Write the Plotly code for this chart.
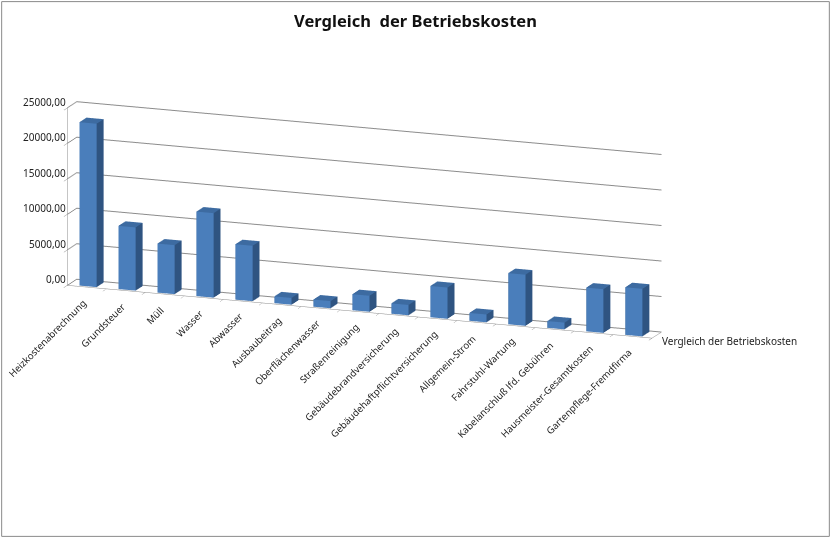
import plotly.graph_objects as go

# Betriebskosten je Position
kategorien = [
    "Heizkostenabrechnung", "Grundsteuer", "Müll", "Wasser", "Abwasser",
    "Ausbaubeitrag", "Oberflächenwasser", "Straßenreinigung",
    "Gebäudebrandversicherung", "Gebäudehaftpflichtversicherung",
    "Allgemein-Strom", "Fahrstuhl-Wartung", "Kabelanschluß lfd. Gebühren",
    "Hausmeister-Gesamtkosten", "Gartenpflege-Fremdfirma",
]
kosten = [23000, 8900, 6900, 11900, 7800, 950, 1000, 2250, 1450, 4400,
          1100, 7200, 950, 6150, 6700]
serie = "Vergleich der Betriebskosten"
z_ticks = [0, 5000, 10000, 15000, 20000, 25000]

breite = 0.22   # halbe Säulenbreite
tiefe = 0.24    # halbe Säulentiefe
boden = 0.32    # halbe Bodentiefe
anz = len(kategorien)

vx, vy, vz = [], [], []
ti, tj, tk, fc = [], [], [], []
front, seite, dach, rechts = "#4a7ebb", "#3a6494", "#3d6ba1", "#2f5481"
for n, wert in enumerate(kosten):
    b = len(vx)
    x0, x1 = n - breite, n + breite
    y0, y1 = -tiefe, tiefe
    for (x, y, z) in [(x0, y0, 0), (x1, y0, 0), (x1, y1, 0), (x0, y1, 0),
                      (x0, y0, wert), (x1, y0, wert), (x1, y1, wert), (x0, y1, wert)]:
        vx.append(x); vy.append(y); vz.append(z)
    flaechen = [
        ((0, 1, 5), front), ((0, 5, 4), front),
        ((3, 2, 6), seite), ((3, 6, 7), seite),
        ((0, 3, 7), seite), ((0, 7, 4), seite),
        ((1, 2, 6), rechts), ((1, 6, 5), rechts),
        ((4, 5, 6), dach), ((4, 6, 7), dach),
        ((0, 1, 2), rechts), ((0, 2, 3), rechts),
    ]
    for (a, c, d), col in flaechen:
        ti.append(b + a); tj.append(b + c); tk.append(b + d); fc.append(col)

fig = go.Figure(go.Mesh3d(
    x=vx, y=vy, z=vz, i=ti, j=tj, k=tk, facecolor=fc,
    flatshading=True, hoverinfo="skip",
    lighting=dict(ambient=1, diffuse=0, specular=0, roughness=1, fresnel=0),
))

achse = dict(showbackground=False, showspikes=False, title="",
             zeroline=False, linecolor="#8c8c8c", tickcolor="#8c8c8c")

labels = [dict(x=n + 0.15, y=-boden, z=0, text=k, showarrow=False,
               textangle=-45, xanchor="right", yanchor="top",
               xshift=-1, yshift=-6, font=dict(size=9.6, color="#222222"))
          for n, k in enumerate(kategorien)]
labels.append(dict(x=anz - 0.5, y=-boden, z=0, text=serie, showarrow=False,
                   xanchor="left", yanchor="middle", xshift=8, yshift=-3,
                   font=dict(size=10, color="#222222")))
# Beschriftung der Werteachse waagerecht
labels += [dict(x=-0.5, y=boden, z=v, text=f"{v:.2f}".replace(".", ","),
                showarrow=False, xanchor="right", yanchor="middle", xshift=-9,
                font=dict(size=10, color="#222222"))
           for v in z_ticks]

fig.update_layout(
    width=831, height=538,
    margin=dict(l=0, r=0, t=0, b=0),
    paper_bgcolor="white",
    separators=",.",
    font=dict(family="Noto Sans", size=10, color="#222222"),
    title=dict(text="<b>Vergleich  der Betriebskosten</b>", x=0.5, y=0.972,
               xanchor="center", font=dict(size=16.5, color="#111111")),
    scene=dict(
        domain=dict(x=[0, 1], y=[0, 0.92]),
        xaxis=dict(achse, range=[-0.5, anz - 0.5], showgrid=False,
                   showline=True, showticklabels=False, ticks="outside",
                   tickvals=[n - 0.5 for n in range(anz + 1)], ticklen=4),
        yaxis=dict(achse, range=[-boden, boden], showgrid=False,
                   showline=True, showticklabels=False),
        zaxis=dict(achse, range=[0, z_ticks[-1] * 1.0005], tickvals=z_ticks,
                   showticklabels=False, showgrid=True, gridcolor="#8c8c8c",
                   showline=True, ticks="outside", ticklen=4),
        aspectmode="manual",
        aspectratio=dict(x=2.52, y=0.108, z=0.74),
        camera=dict(eye=dict(x=1.37, y=-3.1, z=0.555),
                    center=dict(x=0.22, y=0, z=-0.275),
                    projection=dict(type="orthographic")),
        annotations=labels,
    ),
    shapes=[dict(type="rect", xref="paper", yref="paper", x0=0.002, y0=0.003,
                 x1=0.998, y1=0.997, line=dict(color="#8a8a8a", width=1))],
)

fig.write_html("out.html", config={"displayModeBar": False},
               post_script="document.body.style.margin='0';")
